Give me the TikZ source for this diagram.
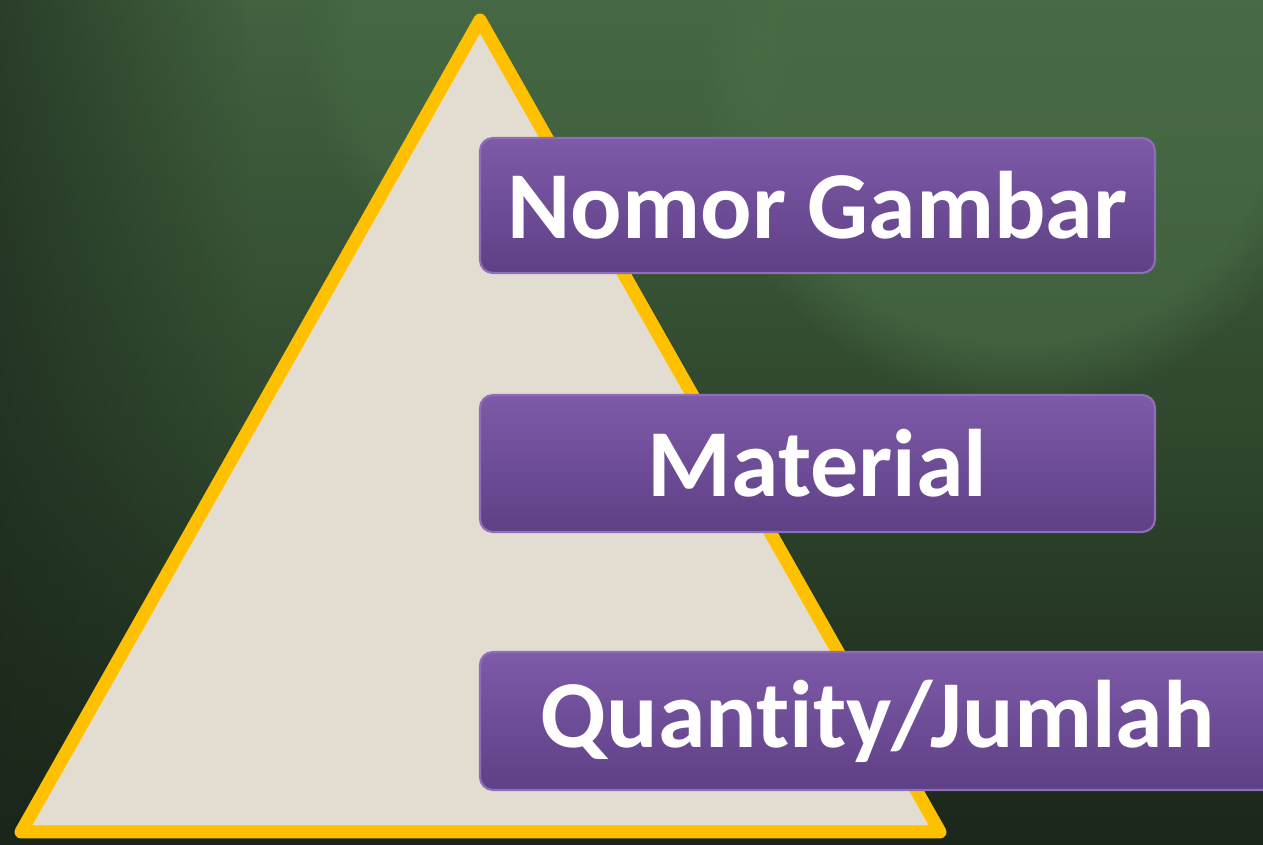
\documentclass[tikz,border=0pt]{standalone}
\usepackage{fontspec}
\setmainfont{Carlito}[Ligatures=NoCommon]
\usepackage{xcolor}
\usetikzlibrary{fadings}
\definecolor{bgtop}{RGB}{66,98,64}
\definecolor{bgmid}{RGB}{48,72,46}
\definecolor{bgbot}{RGB}{26,38,26}
\definecolor{bglight}{RGB}{76,112,72}
\definecolor{pyrfill}{RGB}{227,220,208}
\definecolor{pyrline}{RGB}{255,192,0}
\definecolor{boxtop}{RGB}{126,90,168}
\definecolor{boxbot}{RGB}{94,64,134}
\definecolor{boxedge}{RGB}{140,110,185}

\tikzset{
    labelbox/.style = {rounded corners = 0.13cm, top color = boxtop, bottom color = boxbot,
        draw = boxedge, line width = 0.6pt, inner sep = 0pt,
        text = white, font = \fontsize{27.3}{30}\selectfont\bfseries}
}

\begin{document}
\begin{tikzpicture}
    \useasboundingbox (0,0) rectangle (12.63,8.45);
    \clip (0,0) rectangle (12.63,8.45);

    \shade[top color = bgtop, bottom color = bgbot, middle color = bgmid] (0,0) rectangle (12.63,8.45);
    \fill[bglight, opacity = 0.6, path fading = circle with fuzzy edge 20 percent] (10.2,7.6) circle (3.2cm);
    \fill[bglight, opacity = 0.4, path fading = circle with fuzzy edge 20 percent] (5.5,8.0) circle (2.5cm);
    \fill[bgbot, opacity = 0.6, path fading = east] (0,0) rectangle (2.5,8.45);

    \draw[line width = 0.13cm, line join = round, draw = pyrline, fill = pyrfill]
        (4.80,8.25) -- (9.40,0.13) -- (0.21,0.13) -- cycle;

    \node[labelbox, minimum width = 6.75cm, minimum height = 1.35cm] (nomor) at (8.175,6.395) {Nomor Gambar};
    \node[labelbox, minimum width = 6.75cm, minimum height = 1.37cm] (material) at (8.175,3.815) {Material};
    \node[labelbox, minimum width = 7.95cm, minimum height = 1.38cm] (jumlah) at (8.775,1.24) {Quantity/Jumlah};

\end{tikzpicture}
\end{document}
